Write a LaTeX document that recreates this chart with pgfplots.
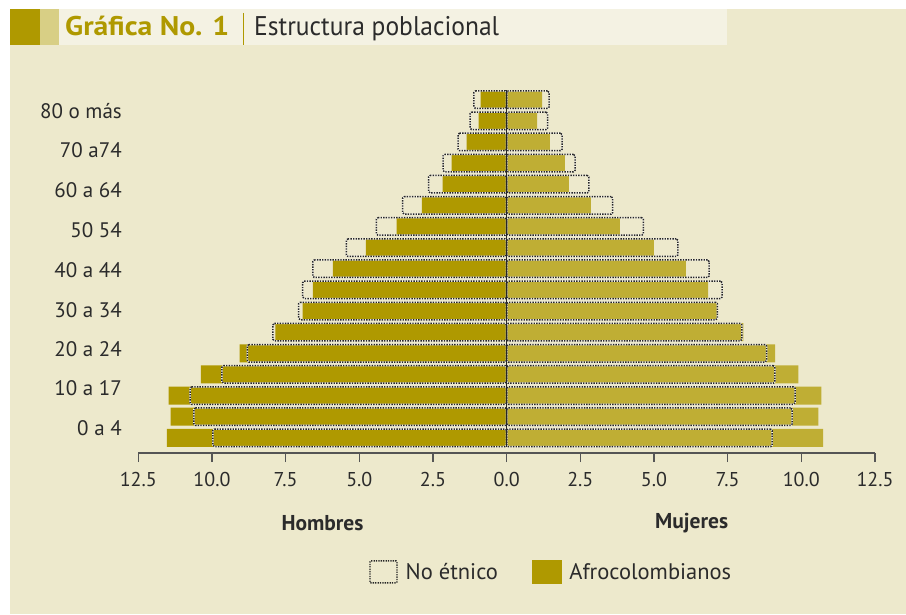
\documentclass[border=0pt]{standalone}
\usepackage{pgfplots}
\pgfplotsset{compat=1.18}
\usepackage{fontspec}
\setmainfont{PT Sans}
\definecolor{bg}{HTML}{EDE9CC}
\definecolor{titlebg}{HTML}{F4F2E3}
\definecolor{goldM}{HTML}{AF9900}
\definecolor{goldF}{HTML}{BFAE34}
\definecolor{goldL}{HTML}{D8CF85}
\definecolor{txt}{HTML}{2B2B2B}
\definecolor{axgray}{HTML}{555555}
\begin{document}
\begin{tikzpicture}
\useasboundingbox (0pt,0pt) rectangle (906pt,614pt);
\fill[white] (0pt,0pt) rectangle (906pt,614pt);
\fill[bg] (10pt,0pt) rectangle (906pt,605pt);
\fill[titlebg] (59pt,605pt) rectangle (727pt,568.5pt);
\fill[goldM] (10pt,605pt) rectangle (39.5pt,568.5pt);
\fill[goldL] (39.5pt,605pt) rectangle (59pt,568.5pt);
\node[anchor=base west, inner sep=0pt, text=goldM, font=\fontsize{27}{30}\selectfont\bfseries] at (65pt,578pt) {\scalebox{1.1}[1]{Gráfica No. 1}};
\draw[goldM, line width=1.6pt] (243.5pt,601pt) -- (243.5pt,569pt);
\node[anchor=base west, inner sep=0pt, text=txt, font=\fontsize{27}{30}\selectfont] at (254pt,578pt) {\scalebox{0.945}[1]{Estructura poblacional}};
\begin{axis}[
  at={(138.3pt,161pt)}, anchor=south west,
  scale only axis, width=736.7pt, height=368.1pt,
  xmin=-12.5, xmax=12.5, ymin=-0.72, ymax=16.7,
  axis x line*=bottom, axis y line*=left,
  y axis line style={draw=none},
  x axis line style={draw=axgray, line width=1.5pt},
  xtick={-12.5,-10,-7.5,-5,-2.5,0,2.5,5,7.5,10,12.5},
  xtick style={draw=axgray, line width=1.3pt},
  tick align=outside, major tick length=9pt,
  ytick style={draw=none},
  ytick={0.45,2.33,4.18,6.05,7.93,9.83,11.73,13.63,15.48},
  yticklabels={0 a 4,10 a 17,20 a 24,30 a 34,40 a 44,50 54,60 a 64,70 a74,80 o más},
  yticklabel style={font=\fontsize{21}{24}\selectfont, text=txt, xshift=-4pt},
  xticklabel={\pgfmathparse{abs(\tick)}\pgfmathprintnumber[fixed,fixed zerofill,precision=1]{\pgfmathresult}},
  xticklabel style={font=\fontsize{20}{24}\selectfont, text=txt, yshift=-7pt, /pgf/number format/assume math mode=true},
  clip=false,
  legend columns=2,
  legend style={at={(0.5605,-0.323)}, anchor=center, draw=none, fill=none,
    font=\fontsize{22.5}{26}\selectfont, text=txt,
    /tikz/every odd column/.append style={column sep=6pt},
    /tikz/every even column/.append style={column sep=32pt}},
]
\addplot[xbar, bar shift=0pt, bar width=18pt, fill=goldM, draw=none, forget plot] coordinates {
(-11.53,0) (-11.40,1) (-11.47,2) (-10.38,3) (-9.06,4) (-7.85,5) (-6.92,6) (-6.58,7) (-5.90,8) (-4.78,9) (-3.73,10) (-2.88,11) (-2.17,12) (-1.87,13) (-1.36,14) (-0.95,15) (-0.88,16)};
\addplot[xbar, bar shift=0pt, bar width=18pt, fill=goldF, draw=none, forget plot] coordinates {
(10.74,0) (10.58,1) (10.68,2) (9.90,3) (9.11,4) (8.03,5) (7.15,6) (6.84,7) (6.08,8) (5.00,9) (3.84,10) (2.86,11) (2.11,12) (1.98,13) (1.47,14) (1.03,15) (1.20,16)};
\addplot[xbar, bar shift=0pt, bar width=17.5pt, fill=none, draw=white!70!bg, line width=1.5pt, rounded corners=1.5pt, forget plot] coordinates {
(-9.97,0) (-10.61,1) (-10.74,2) (-9.66,3) (-8.80,4) (-7.93,5) (-7.06,6) (-6.92,7) (-6.58,8) (-5.44,9) (-4.42,10) (-3.53,11) (-2.65,12) (-2.16,13) (-1.65,14) (-1.24,15) (-1.11,16)};
\addplot[xbar, bar shift=0pt, bar width=17.5pt, fill=none, draw=white!70!bg, line width=1.5pt, rounded corners=1.5pt, forget plot] coordinates {
(9.01,0) (9.69,1) (9.79,2) (9.10,3) (8.82,4) (7.98,5) (7.15,6) (7.31,7) (6.87,8) (5.81,9) (4.64,10) (3.60,11) (2.79,12) (2.32,13) (1.88,14) (1.39,15) (1.44,16)};
\addplot[xbar, bar shift=0pt, bar width=17.5pt, fill=none, draw=black!85, line width=1.5pt, dash pattern=on 1.4pt off 1.2pt, rounded corners=1.5pt, forget plot] coordinates {
(-9.97,0) (-10.61,1) (-10.74,2) (-9.66,3) (-8.80,4) (-7.93,5) (-7.06,6) (-6.92,7) (-6.58,8) (-5.44,9) (-4.42,10) (-3.53,11) (-2.65,12) (-2.16,13) (-1.65,14) (-1.24,15) (-1.11,16)};
\addplot[xbar, bar shift=0pt, bar width=17.5pt, fill=none, draw=black!85, line width=1.5pt, dash pattern=on 1.4pt off 1.2pt, rounded corners=1.5pt, forget plot] coordinates {
(9.01,0) (9.69,1) (9.79,2) (9.10,3) (8.82,4) (7.98,5) (7.15,6) (7.31,7) (6.87,8) (5.81,9) (4.64,10) (3.60,11) (2.79,12) (2.32,13) (1.88,14) (1.39,15) (1.44,16)};
\addplot[black!85, line width=1.6pt, forget plot] coordinates {(0,-0.44) (0,16.44)};
\addlegendimage{legend image code/.code={\draw[black!85, line width=1.4pt, dash pattern=on 1.3pt off 1.1pt, rounded corners=1pt] (0pt,-11pt) rectangle (27pt,11pt);}}
\addlegendentry{No étnico}
\addlegendimage{legend image code/.code={\fill[goldM] (0pt,-11.5pt) rectangle (29pt,11.5pt);}}
\addlegendentry{Afrocolombianos}
\node[font=\fontsize{21.5}{24}\selectfont\bfseries, text=txt] at (axis cs:-6.25,-4.03) {Hombres};
\node[font=\fontsize{21.5}{24}\selectfont\bfseries, text=txt] at (axis cs:6.28,-4.03) {Mujeres};
\end{axis}
\end{tikzpicture}
\end{document}
